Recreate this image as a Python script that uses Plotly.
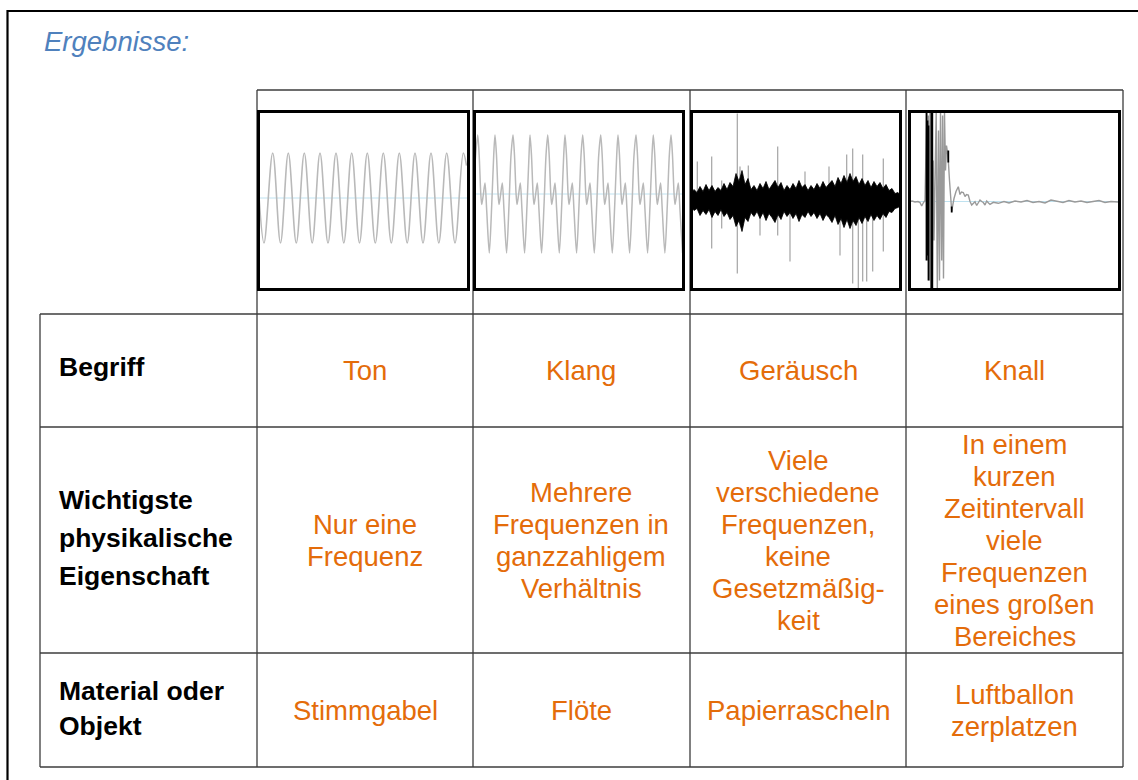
import plotly.graph_objects as go

W, H = 1138, 780

# ---------------- text data ----------------
title_text = "Ergebnisse:"
categories = ["Ton", "Klang", "Geräusch", "Knall"]
row_labels = [["Begriff"], ["Wichtigste", "physikalische", "Eigenschaft"], ["Material oder", "Objekt"]]
properties = [
    ["Nur eine", "Frequenz"],
    ["Mehrere", "Frequenzen in", "ganzzahligem", "Verhältnis"],
    ["Viele", "verschiedene", "Frequenzen,", "keine", "Gesetzmäßig-", "keit"],
    ["In einem", "kurzen", "Zeitintervall", "viele", "Frequenzen", "eines großen", "Bereiches"],
]
objects = [["Stimmgabel"], ["Flöte"], ["Papierrascheln"], ["Luftballon", "zerplatzen"]]

# ---------------- waveform data ----------------
# Ton: extremes of the pure tone (time, amplitude)
ton_t = [1, 6, 14.7, 22.5, 30.3, 38.3, 46.3, 54.2, 62, 70, 78, 85.8, 93.7, 101.5, 109.3,
         117.3, 125.3, 133.3, 141.3, 149.2, 157, 165, 173, 180.8, 188.7, 197, 205.3, 208.5]
ton_a = [4, -42.5, 47.5, -42.5, 47.5, -42.5, 47.5, -42.5, 47.5, -42.5, 47.5, -42.5, 47.5, -42.5, 47.5,
         -42.5, 47.5, -42.5, 47.5, -42.5, 47.5, -42.5, 47.5, -42.5, 47.5, -42.5, 47.5, 35]
ton_base = 2.5

# Klang: times of the tall peaks and the shape of one period
klang_peaks = [3.7, 21, 39, 56, 73.7, 91, 108.7, 126.7, 144, 162, 179.3, 197]
klang_shape_t = [0, 1.5, 3, 4, 5.5, 7.3, 9, 11.6, 14, 16]
klang_shape_a = [65.5, 45, 8, -4, 5, 17.5, -10, -52.5, -5, 45]
klang_start = (1.2, 40)
klang_base = 6.5

# Geräusch: envelope of the dense band and isolated spikes
noise_x = list(range(0, 211, 3))
noise_up = [6, 11, 8, 14, 9, 16, 10, 15, 9, 13, 10, 17, 11, 18, 14, 27, 19, 30, 16, 22, 11, 15, 10, 17,
            12, 19, 11, 16, 20, 13, 18, 10, 15, 11, 17, 12, 20, 13, 16, 10, 15, 11, 17, 12, 19, 13, 16,
            20, 14, 23, 17, 25, 18, 27, 19, 24, 16, 22, 15, 20, 13, 19, 14, 18, 12, 16, 10, 12, 7, 8, 5]
noise_lo = [-6, -10, -8, -15, -10, -14, -9, -17, -11, -15, -9, -16, -12, -19, -15, -26, -20, -31, -17, -21,
            -12, -16, -11, -18, -12, -20, -13, -17, -22, -14, -19, -11, -16, -12, -18, -13, -21, -14, -17,
            -11, -16, -12, -18, -13, -20, -14, -17, -22, -15, -24, -18, -27, -19, -28, -20, -25, -17, -23,
            -16, -21, -14, -20, -15, -19, -13, -17, -11, -12, -8, -7, -5]
spike_x = [6.3, 20.7, 30.7, 46.3, 49, 57.3, 69, 86.7, 99, 114, 138, 149, 155.7, 161.7, 167.3, 171.7,
           175.7, 181.7, 192.3]
spike_top = [39, 44, 20, 87, 34, 35, 10, 54, 8, 29, 34, 10, 46, 52, 12, 46, 10, 15, 42]
spike_bot = [-8, -48, -28, -73, -25, -10, -35, -35, -61, -8, -10, -55, -20, -83, -88, -81, -81, -71, -51]
noise_base = 0

# Knall: trace of the burst and the decaying oscillation
knall_t = [0, 3, 6, 9, 11, 12.7, 14.5, 16, 17.2, 17.7, 18.5, 19.3, 20.2, 21, 21.7, 22.5, 23.3, 24.2,
           25, 26, 27.2, 28.3, 29.5, 30.5, 31.5, 32.7, 33.6, 34.5, 35.5, 36.5, 37.5, 38.5, 39.3, 40.5,
           42.7, 45, 47, 49.3, 51, 52.5, 54.3, 56, 57.5, 59.3, 61, 62.7, 64.5, 66, 67.7, 69.5, 71, 72.7,
           74.3, 76, 77.7, 79.5, 81, 84.3, 87, 89.3, 95, 100, 106, 112, 118, 124, 130, 136, 142, 148,
           154, 160, 166, 172, 178, 184, 190, 196, 202, 209]
knall_a = [-1, -0.5, -1.5, -1, -2, -5.5, -2, 0, 60, 88, -60, 85, -80, 88, -88, 88, -88, 40,
           -40, 30, 88, -88, 70, -80, 88, -60, 85, -78, 88, 30, 55, 48, 40, 20,
           -10.5, 2, 9, 13.8, 6, 8.5, 8, 4, 6, 5.5, -1, -4.5, -2, -1.2, -5, -2, 0.5, -1,
           -2, -4.5, -0.5, -2.5, -3.8, -1.8, -2, -2.8, -1, -2.5, -0.5, -1.5, 0, -2, -1, -2.5, 0.5, -1,
           -2, 0, -1.5, -0.5, -2, -1, 0, -2, -1, -1.5]
knall_black_x = [17.5, 18.5, 19.5, 22.5, 23.3, 39.3, 42.7]
knall_black_top = [88, 80, 75, 88, 88, 50, -6]
knall_black_bot = [-60, -55, -80, -88, -88, 38, -12]
knall_base = -1

# ---------------- layout geometry (pixels) ----------------
boxes = [(257, 470), (473, 685), (690, 902), (908, 1121)]
box_top, box_bot = 110, 291
origins = [258, 474, 691, 909]
col_x = [40, 257, 473, 690, 906, 1123]
row_y = [314, 427, 653, 767]
head_top = 90
BW = 3


def px(x):
    return x / W


def py(y):
    return 1 - y / H


fig = go.Figure()

axis_names = ["", "2", "3", "4"]
for i, (x0, x1) in enumerate(boxes):
    il, ir = x0 + BW, x1 - BW
    it, ib = box_top + BW, box_bot - BW
    o = origins[i]
    xa = dict(domain=[px(il), px(ir)], range=[il - o, ir - o], showgrid=False, zeroline=False,
              showticklabels=False, ticks="", showline=True, mirror=True, linewidth=BW,
              linecolor="black", fixedrange=True, anchor="y" + axis_names[i])
    ya = dict(domain=[py(ib), py(it)], range=[-(ib - it) / 2, (ib - it) / 2], showgrid=False,
              zeroline=False, showticklabels=False, ticks="", showline=True, mirror=True,
              linewidth=BW, linecolor="black", fixedrange=True, anchor="x" + axis_names[i])
    fig.layout["xaxis" + axis_names[i]] = xa
    fig.layout["yaxis" + axis_names[i]] = ya

BLUE = "#bfe2f0"
GRAY = "#b9b9b9"


def base_line(ax, base, x0, x1):
    fig.add_trace(go.Scatter(x=[x0, x1], y=[base, base], mode="lines",
                             line=dict(color=BLUE, width=1), hoverinfo="skip",
                             xaxis="x" + ax, yaxis="y" + ax, showlegend=False))


def segments(xs, tops, bots):
    sx, sy = [], []
    for x, t, b in zip(xs, tops, bots):
        sx += [x, x, None]
        sy += [t, b, None]
    return sx, sy


# Ton
base_line("", ton_base, 0, 212)
fig.add_trace(go.Scatter(x=ton_t, y=ton_a, mode="lines",
                         line=dict(color=GRAY, width=1.6, shape="spline", smoothing=1),
                         xaxis="x", yaxis="y", showlegend=False, hoverinfo="skip"))

# Klang
kx, ky = [klang_start[0]], [klang_start[1]]
for p in klang_peaks:
    for st, sa in zip(klang_shape_t, klang_shape_a):
        if p + st <= 209:
            kx.append(p + st)
            ky.append(sa)
base_line("2", klang_base, 0, 212)
fig.add_trace(go.Scatter(x=kx, y=ky, mode="lines",
                         line=dict(color=GRAY, width=1.5, shape="spline", smoothing=0.8),
                         xaxis="x2", yaxis="y2", showlegend=False, hoverinfo="skip"))

# Geräusch
base_line("3", noise_base, 0, 212)
sx, sy = segments(spike_x, spike_top, spike_bot)
fig.add_trace(go.Scatter(x=sx, y=sy, mode="lines", line=dict(color="#a4a4a4", width=1.2),
                         xaxis="x3", yaxis="y3", showlegend=False, hoverinfo="skip"))
fig.add_trace(go.Scatter(x=noise_x + noise_x[::-1], y=noise_up + noise_lo[::-1], mode="lines",
                         fill="toself", fillcolor="black", line=dict(color="black", width=0.8),
                         xaxis="x3", yaxis="y3", showlegend=False, hoverinfo="skip"))

# Knall
base_line("4", knall_base, 0, 212)
fig.add_trace(go.Scatter(x=knall_t, y=knall_a, mode="lines", line=dict(color="#9a9a9a", width=1.4),
                         xaxis="x4", yaxis="y4", showlegend=False, hoverinfo="skip"))
bx, by = segments(knall_black_x, knall_black_top, knall_black_bot)
fig.add_trace(go.Scatter(x=bx, y=by, mode="lines", line=dict(color="black", width=1.8),
                         xaxis="x4", yaxis="y4", showlegend=False, hoverinfo="skip"))

# ---------------- table lines ----------------
shapes = []
LC = "#3c3c3c"


def hline(x0, x1, y, color=LC, w=1.3):
    shapes.append(dict(type="line", xref="paper", yref="paper", x0=px(x0), x1=px(x1),
                       y0=py(y), y1=py(y), line=dict(color=color, width=w), layer="below"))


def vline(x, y0, y1, color=LC, w=1.3):
    shapes.append(dict(type="line", xref="paper", yref="paper", x0=px(x), x1=px(x),
                       y0=py(y0), y1=py(y1), line=dict(color=color, width=w), layer="below"))


# outer frame
hline(7, 1160, 11, "black", 2.2)
vline(7.5, 10, 800, "black", 2.2)
# header row for waveforms
hline(col_x[1], col_x[5], head_top)
for x in col_x[1:]:
    vline(x, head_top, row_y[0])
# main table
for y in row_y:
    hline(col_x[0], col_x[5], y)
vline(col_x[0], row_y[0], row_y[-1])
for x in col_x[1:]:
    vline(x, row_y[0], row_y[-1])

# ---------------- annotations ----------------
ORANGE = "#e46c0a"
annotations = []


def text(x, y, s, size, color, bold=False, italic=False, anchor="center"):
    fam = "Liberation Sans, Arial, sans-serif"
    t = f"<b>{s}</b>" if bold else s
    t = f"<i>{t}</i>" if italic else t
    annotations.append(dict(x=px(x), y=py(y), xref="paper", yref="paper", text=t, showarrow=False,
                            xanchor=anchor, yanchor="middle",
                            font=dict(family=fam, size=size, color=color)))


text(42, 41, title_text, 27.5, "#4f81bd", italic=True, anchor="left")

# left labels
label_centers = [367, 538, 708]
label_spacing = [37, 38, 35]
for lines, c, sp in zip(row_labels, label_centers, label_spacing):
    n = len(lines)
    for i, s in enumerate(lines):
        text(57, c + (i - (n - 1) / 2) * sp, s, 26.5, "black", bold=True, anchor="left")

# cell contents
row_centers = [370, 540, 710]
SP = 32
for r, content in enumerate([[[c] for c in categories], properties, objects]):
    for ci, lines in enumerate(content):
        cx = (col_x[ci + 1] + col_x[ci + 2]) / 2
        n = len(lines)
        for i, s in enumerate(lines):
            text(cx, row_centers[r] + (i - (n - 1) / 2) * SP, s, 27.5, ORANGE)

fig.update_layout(width=W, height=H, margin=dict(l=0, r=0, t=0, b=0, pad=0),
                  paper_bgcolor="white", plot_bgcolor="rgba(0,0,0,0)",
                  shapes=shapes, annotations=annotations, showlegend=False)

fig.write_html("out.html", config={"displayModeBar": False, "staticPlot": True},
               post_script="document.body.style.margin='0';document.body.style.overflow='hidden';")
